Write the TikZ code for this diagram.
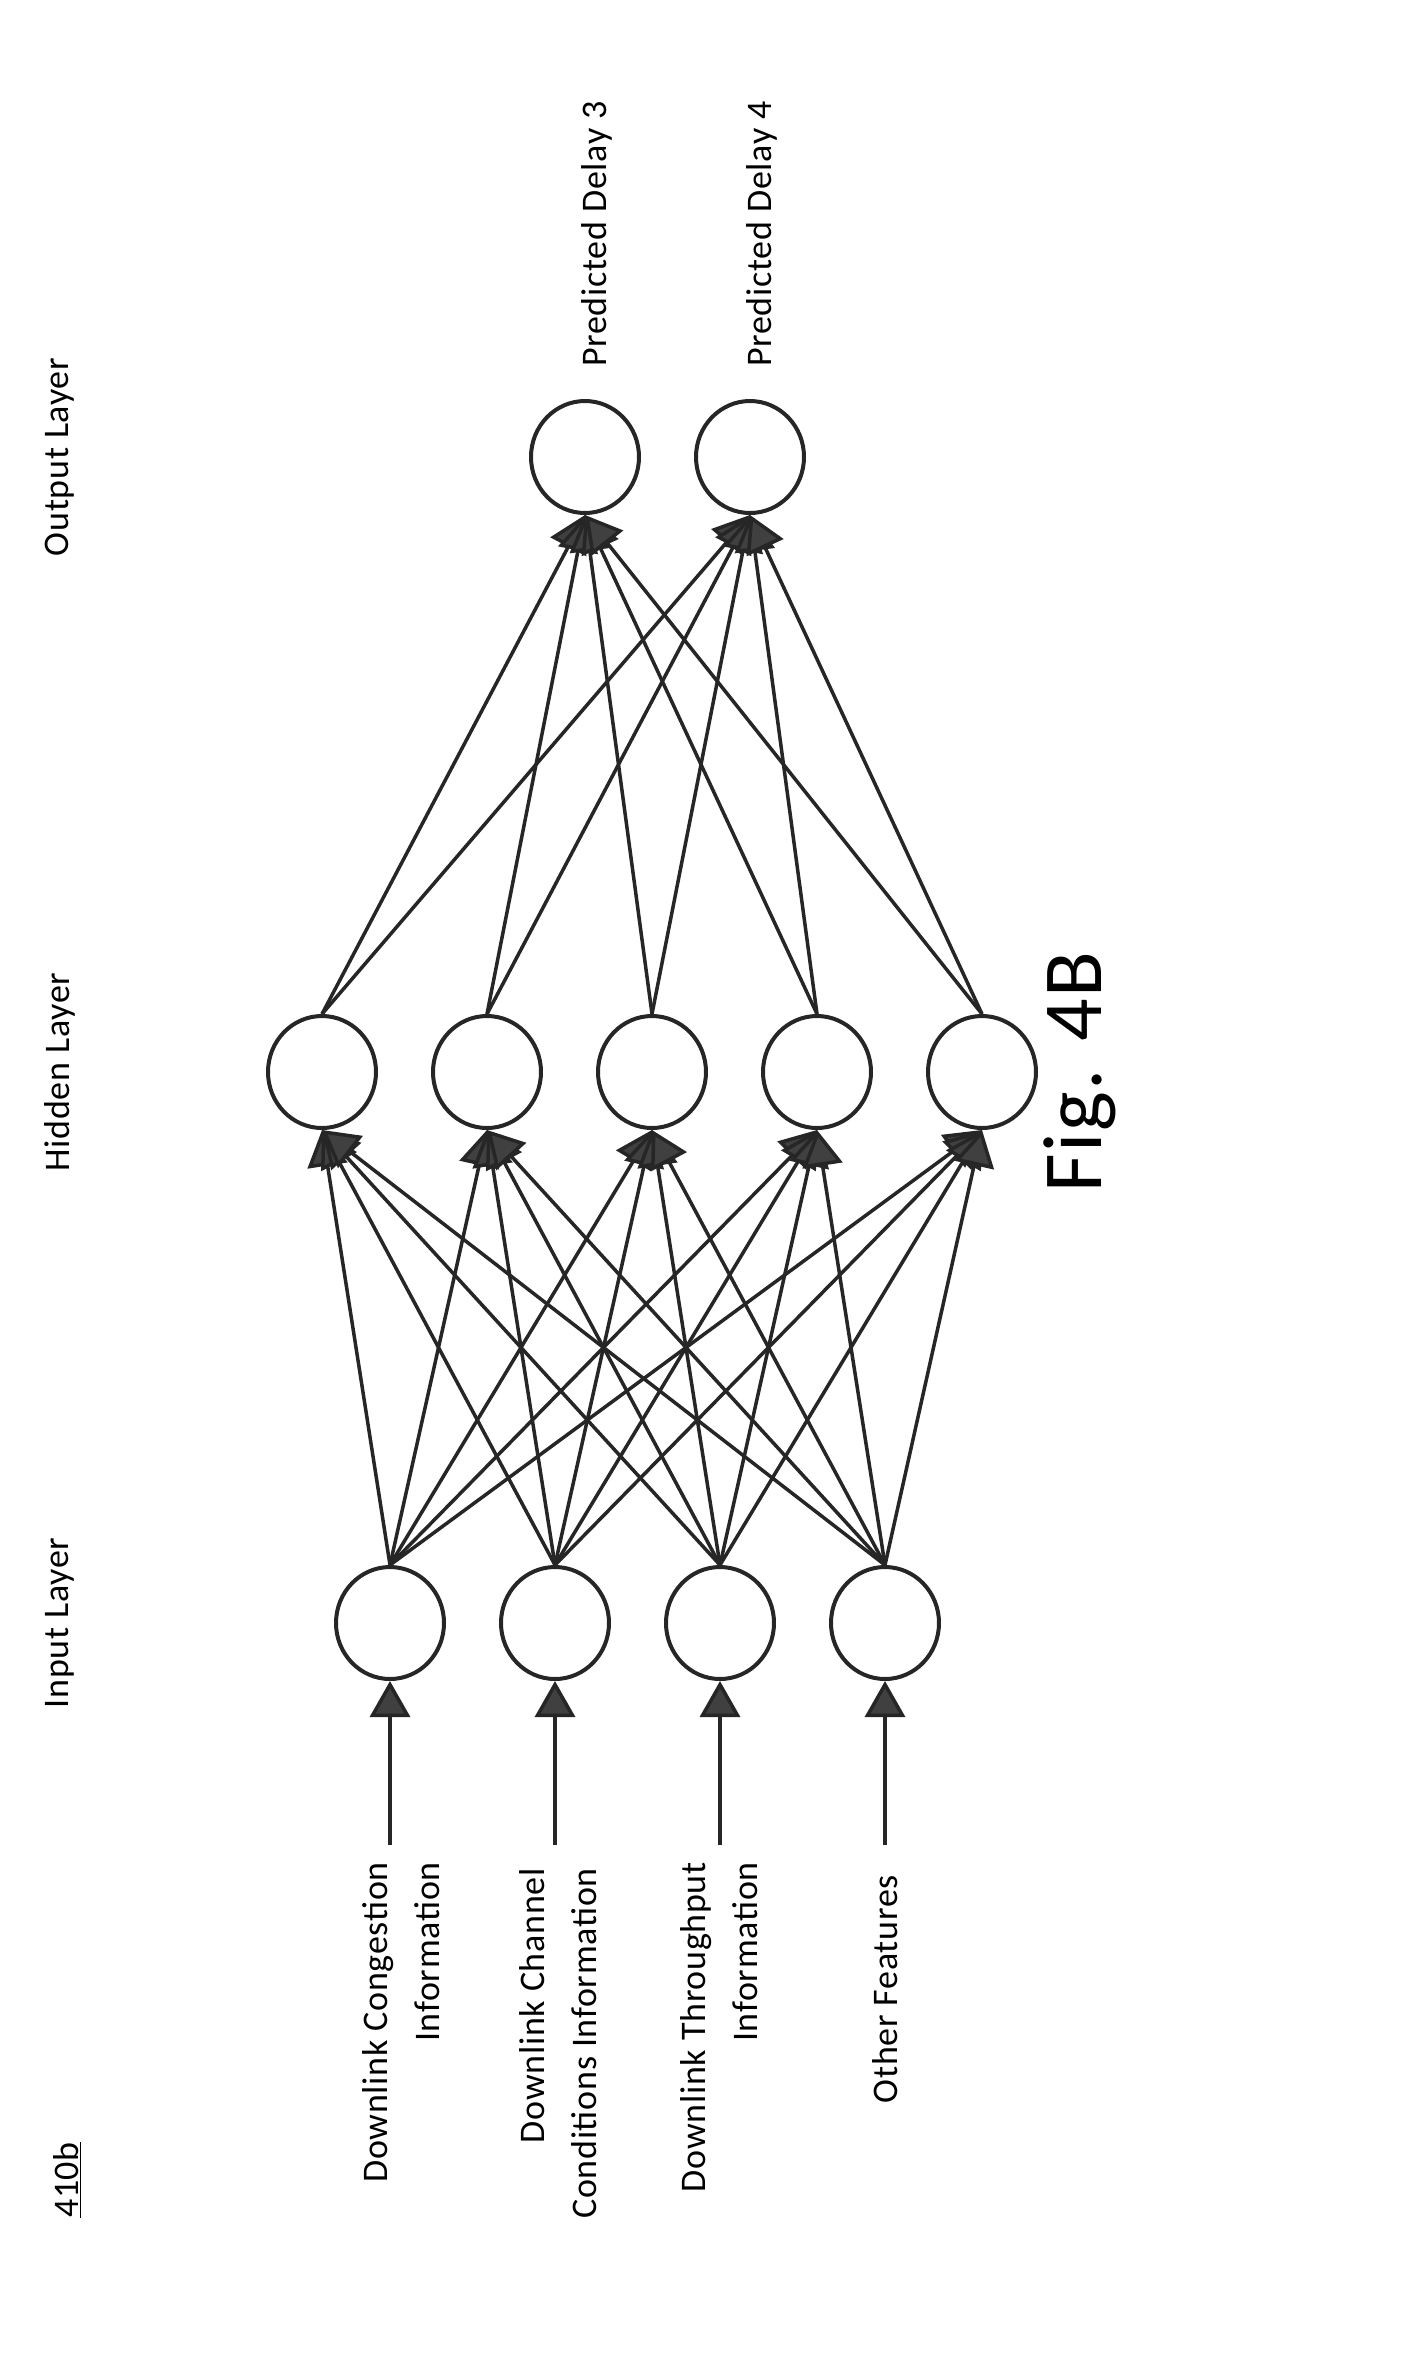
\documentclass[tikz,border=0pt]{standalone}
\usepackage{fontspec}
\setmainfont{Carlito}[LetterSpace=2]
\usetikzlibrary{arrows.meta,shapes.geometric}
\begin{document}
\begin{tikzpicture}[x=1pt,y=-1pt,
  neuron/.style={draw=black!85,line width=4pt,ellipse,minimum width=108pt,minimum height=112pt,inner sep=0pt},
  conn/.style={draw=black!85,line width=3.5pt,-{Triangle[length=36pt,width=40pt,fill=black!75]}},
  lbl/.style={rotate=90,font=\fontsize{36}{52}\selectfont,inner sep=0pt}]
\useasboundingbox (0,0) rectangle (1408,2362);
% nodes
\foreach \i/\x in {1/390,2/555,3/720,4/885} \node[neuron] (i\i) at (\x,1623) {};
\foreach \i/\x in {1/322,2/487,3/652,4/817,5/982} \node[neuron] (h\i) at (\x,1072) {};
\foreach \i/\x in {1/585,2/750} \node[neuron] (o\i) at (\x,457) {};
% input arrows
\foreach \i/\x in {1/390,2/555,3/720,4/885} {
  \coordinate (s\i) at (\x,1845);
  \draw[conn] (s\i) -- (i\i.south);}
\foreach \i in {1,...,4} \foreach \j in {1,...,5} \draw[conn] (i\i.north) -- (h\j.south);
\foreach \j in {1,...,5} \foreach \k in {1,2} \draw[conn] (h\j.north) -- (o\k.south);
% labels
\node[lbl] (l1) at (60,1623) {Input Layer};
\node[lbl] (l2) at (60,1072) {Hidden Layer};
\node[lbl] (l3) at (60,457) {Output Layer};
\node[lbl,anchor=west] (p3) at (597,367) {Predicted Delay 3};
\node[lbl,anchor=west] (p4) at (762,367) {Predicted Delay 4};
\node[lbl,anchor=east,align=right] (t1) at (401,1862) {Downlink Congestion\\Information};
\node[lbl,anchor=east,align=right] (t2) at (558,1868) {Downlink Channel\\Conditions Information};
\node[lbl,anchor=east,align=right] (t3) at (719,1862) {Downlink Throughput\\Information};
\node[lbl,anchor=east] (t4) at (885,1875) {Other Features};
\node[lbl] (ref) at (67,2180) {\underline{410b}};
\node[rotate=90,font=\fontsize{84}{90}\selectfont,inner sep=0pt] (fig) at (1080,1072) {Fig. 4B};
\end{tikzpicture}
\end{document}
